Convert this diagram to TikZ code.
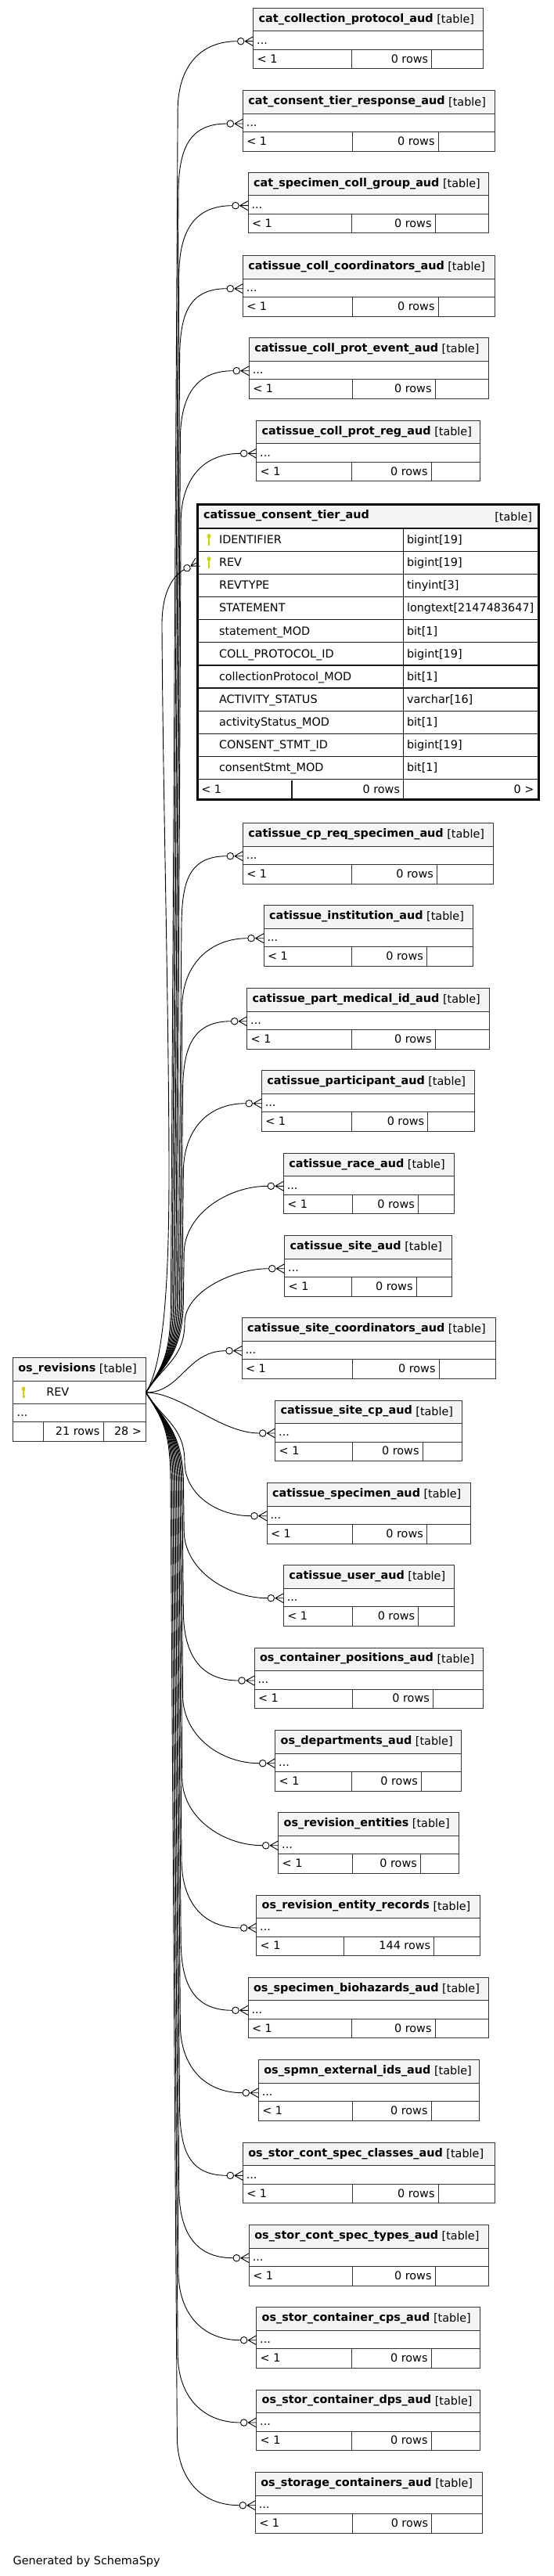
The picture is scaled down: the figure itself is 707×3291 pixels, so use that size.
\documentclass[tikz,border=0pt]{standalone}
\usepackage{fontspec}
\setmainfont{DejaVu Sans}
\usetikzlibrary{calc}
\definecolor{hdrfill}{RGB}{244,244,244}
\definecolor{bordc}{RGB}{51,51,51}
\definecolor{keyc}{RGB}{210,210,0}
\tikzset{
 tline/.style={draw=bordc, line width=1pt},
 hdr/.style={fill=hdrfill, draw=bordc, line width=1pt},
 txt/.style={anchor=base west, inner sep=0pt, outer sep=0pt},
 rtxt/.style={anchor=base east, inner sep=0pt, outer sep=0pt},
 fkline/.style={draw=black, line width=0.9pt},
 crowfoot/.pic={\draw[fkline] (-10.5,0) -- (0,-6) (-10.5,0) -- (0,0) (-10.5,0) -- (0,6); \draw[fkline, fill=white] (-16,0) circle (4.3);},
 dbkey/.pic={\fill[keyc] (0,-4.5) ellipse (2.4 and 3); \draw[keyc, line width=1.8pt] (0,-3) -- (0,7); \draw[keyc, line width=1.2pt] (0,5) -- (2.2,5);}
}
\newcommand\smalltbl[8]{%
 \pgfmathsetmacro\tya{#3+29.3}%
 \pgfmathsetmacro\tyb{#3+53}%
 \pgfmathsetmacro\tyc{#3+77.3}%
 \pgfmathsetmacro\tyt{#3+17.7}%
 \pgfmathsetmacro\tyd{#3+45.7}%
 \pgfmathsetmacro\tyf{#3+69.8}%
 \pgfmathsetmacro\tye{#3+42}%
 \filldraw[hdr] (#2,#3) rectangle (#4,\tya);
 \draw[tline] (#2,\tya) rectangle (#4,\tyc) (#2,\tyb) -- (#4,\tyb) (#5,\tyb) -- (#5,\tyc) (#6,\tyb) -- (#6,\tyc);
 \node[txt] (#1-title) at (#2+7,\tyt) {\textbf{#7} \raisebox{-1.5pt}{[table]}};
 \node[txt] (#1-dots) at (#2+4.5,\tyd) {...};
 \node[txt] (#1-min) at (#2+5,\tyf) {< 1};
 \node[rtxt] (#1-rows) at (#6-4.5,\tyf) {#8};
 \coordinate (#1-in) at (#2,\tye);
 \coordinate (#1-end) at (#2-20.3,\tye);
 \pic at (#1-in) {crowfoot};
}
\begin{document}
\begin{tikzpicture}[x=1pt,y=-1pt,font=\fontsize{14.4}{17}\selectfont]
\useasboundingbox (0,0) rectangle (707,3291);
\fill[white] (0,0) rectangle (707,3291);

% small tables
\smalltbl{t01}{323.7}{10.7}{617}{449}{551.7}{cat\_collection\_protocol\_aud}{0 rows}
\smalltbl{t02}{310.3}{116}{632}{450.3}{560}{cat\_consent\_tier\_response\_aud}{0 rows}
\smalltbl{t03}{317}{220.7}{624}{449}{556}{cat\_specimen\_coll\_group\_aud}{0 rows}
\smalltbl{t04}{310.3}{326.7}{632}{450.3}{560}{catissue\_coll\_coordinators\_aud}{0 rows}
\smalltbl{t05}{318.3}{431.7}{624}{450.3}{556}{catissue\_coll\_prot\_event\_aud}{0 rows}
\smalltbl{t06}{327.7}{537.3}{613.3}{449}{551}{catissue\_coll\_prot\_reg\_aud}{0 rows}
\smalltbl{t08}{310.3}{1051.7}{630.7}{449}{558.3}{catissue\_cp\_req\_specimen\_aud}{0 rows}
\smalltbl{t09}{337}{1156.7}{604}{449}{545.3}{catissue\_institution\_aud}{0 rows}
\smalltbl{t10}{315.7}{1262.7}{625.3}{449}{556}{catissue\_part\_medical\_id\_aud}{0 rows}
\smalltbl{t11}{334.3}{1367.7}{606.7}{449}{546.7}{catissue\_participant\_aud}{0 rows}
\smalltbl{t12}{362.3}{1473.3}{580}{450.3}{534.3}{catissue\_race\_aud}{0 rows}
\smalltbl{t13}{363.7}{1578.7}{577.3}{449}{532}{catissue\_site\_aud}{0 rows}
\smalltbl{t14}{309}{1683.7}{633.3}{450.3}{561}{catissue\_site\_coordinators\_aud}{0 rows}
\smalltbl{t15}{351.7}{1789}{590.7}{450.3}{540}{catissue\_site\_cp\_aud}{0 rows}
\smalltbl{t16}{341}{1894.7}{601.3}{450.3}{545.3}{catissue\_specimen\_aud}{0 rows}
\smalltbl{t17}{362.3}{1999.7}{580}{450.3}{534.7}{catissue\_user\_aud}{0 rows}
\smalltbl{t18}{325}{2105}{617.3}{450.3}{553.3}{os\_container\_positions\_aud}{0 rows}
\smalltbl{t19}{351.7}{2210.7}{589.3}{449}{538.3}{os\_departments\_aud}{0 rows}
\smalltbl{t20}{355.7}{2315.7}{586.7}{450.3}{537.3}{os\_revision\_entities}{0 rows}
\smalltbl{t21}{327.7}{2421}{613.3}{439.7}{554.7}{os\_revision\_entity\_records}{144 rows}
\smalltbl{t22}{317}{2526.3}{624}{449}{556}{os\_specimen\_biohazards\_aud}{0 rows}
\smalltbl{t23}{330.3}{2631.7}{612}{450.3}{551}{os\_spmn\_external\_ids\_aud}{0 rows}
\smalltbl{t24}{310.3}{2737.3}{632}{450.3}{560}{os\_stor\_cont\_spec\_classes\_aud}{0 rows}
\smalltbl{t25}{318.3}{2842.7}{624}{450.3}{556}{os\_stor\_cont\_spec\_types\_aud}{0 rows}
\smalltbl{t26}{327.7}{2947.7}{613.3}{449}{551}{os\_stor\_container\_cps\_aud}{0 rows}
\smalltbl{t27}{327.7}{3053}{613.3}{449}{551}{os\_stor\_container\_dps\_aud}{0 rows}
\smalltbl{t28}{326.3}{3158.7}{616.3}{450.3}{551.7}{os\_storage\_containers\_aud}{0 rows}

% big table catissue_consent_tier_aud
\fill[hdrfill] (252.5,644.3) rectangle (688.7,675);
\foreach \i in {0,...,11} { \draw[line width=1.3pt, black!90] (252.5,675+29.15*\i) -- (688.7,675+29.15*\i); }
\draw[line width=1.3pt, black!90] (515.7,675) -- (515.7,1021) (373,996.7) -- (373,1021);
\draw[line width=3pt] (252.5,644.3) rectangle (688.7,1021);
\node[txt] (ct-title) at (260,662.7) {\textbf{catissue\_consent\_tier\_aud}};
\node[rtxt] (ct-tt) at (680,665) {[table]};
\pic at (267,689.6) {dbkey};
\pic at (267,718.7) {dbkey};
\node[txt] (ct-c1) at (280,694.4) {IDENTIFIER};
\node[txt] (ct-c2) at (280,723.6) {REV};
\node[txt] (ct-c3) at (280,752.7) {REVTYPE};
\node[txt] (ct-c4) at (280,781.9) {STATEMENT};
\node[txt] (ct-c5) at (280,811.0) {statement\_MOD};
\node[txt] (ct-c6) at (280,840.2) {COLL\_PROTOCOL\_ID};
\node[txt] (ct-c7) at (280,869.3) {collectionProtocol\_MOD};
\node[txt] (ct-c8) at (280,898.5) {ACTIVITY\_STATUS};
\node[txt] (ct-c9) at (280,927.6) {activityStatus\_MOD};
\node[txt] (ct-c10) at (280,956.8) {CONSENT\_STMT\_ID};
\node[txt] (ct-c11) at (280,985.9) {consentStmt\_MOD};
\node[txt] (ct-t1) at (520,694.4) {bigint[19]};
\node[txt] (ct-t2) at (520,723.6) {bigint[19]};
\node[txt] (ct-t3) at (520,752.7) {tinyint[3]};
\node[txt] (ct-t4) at (520,781.9) {longtext[2147483647]};
\node[txt] (ct-t5) at (520,811.0) {bit[1]};
\node[txt] (ct-t6) at (520,840.2) {bigint[19]};
\node[txt] (ct-t7) at (520,869.3) {bit[1]};
\node[txt] (ct-t8) at (520,898.5) {varchar[16]};
\node[txt] (ct-t9) at (520,927.6) {bit[1]};
\node[txt] (ct-t10) at (520,956.8) {bigint[19]};
\node[txt] (ct-t11) at (520,985.9) {bit[1]};
\node[txt] (ct-min) at (257.3,1013.5) {< 1};
\node[rtxt] (ct-rows) at (511,1013.5) {0 rows};
\node[rtxt] (ct-more) at (682.5,1013.5) {0 >};
\coordinate (ct-in) at (253,718);
\coordinate (ct-end) at (235.2,727.8);
\pic[rotate=29] at (ct-in) {crowfoot};

% os_revisions
\filldraw[hdr] (16.7,1734.3) rectangle (186,1764);
\draw[tline] (16.7,1764) rectangle (186,1841) (16.7,1793.3) -- (186,1793.3) (16.7,1816.7) -- (186,1816.7) (55,1816.7) -- (55,1841) (132,1816.7) -- (132,1841);
\node[txt] (rv-title) at (23.3,1752) {\textbf{os\_revisions} \raisebox{-1.5pt}{[table]}};
\pic at (30,1779) {dbkey};
\node[txt] (rv-rev) at (59.3,1783.5) {REV};
\node[txt] (rv-dots) at (21.7,1809.3) {...};
\node[rtxt] (rv-rows) at (127.5,1833.3) {21 rows};
\node[rtxt] (rv-more) at (181,1833.3) {28 >};
\coordinate (rev-out) at (186.5,1779);

% connectors upward
\draw[fkline] (rev-out) .. controls +(22,-35) and +(0,70) .. (218.4,1660) -- (227.2,137.7) .. controls +(1,-50) and +(-50,0) .. (t01-end);
\draw[fkline] (rev-out) .. controls +(22,-35) and +(0,70) .. (220,1660) -- (228,243) .. controls +(1,-50) and +(-50,0) .. (t02-end);
\draw[fkline] (rev-out) .. controls +(22,-35) and +(0,70) .. (221.6,1660) -- (228.8,347.7) .. controls +(1,-50) and +(-50,0) .. (t03-end);
\draw[fkline] (rev-out) .. controls +(22,-35) and +(0,70) .. (223.2,1660) -- (229.6,453.7) .. controls +(1,-50) and +(-50,0) .. (t04-end);
\draw[fkline] (rev-out) .. controls +(22,-35) and +(0,70) .. (224.8,1660) -- (230.4,558.7) .. controls +(1,-50) and +(-50,0) .. (t05-end);
\draw[fkline] (rev-out) .. controls +(22,-35) and +(0,70) .. (226.4,1660) -- (231.2,664.3) .. controls +(1,-50) and +(-50,0) .. (t06-end);
\draw[fkline] (rev-out) .. controls +(22,-35) and +(0,70) .. (228,1660) -- (232,1178.7) .. controls +(1,-50) and +(-50,0) .. (t08-end);
\draw[fkline] (rev-out) .. controls +(22,-35) and +(0,70) .. (229.6,1660) -- (232.8,1283.7) .. controls +(1,-50) and +(-50,0) .. (t09-end);
\draw[fkline] (rev-out) .. controls +(22,-35) and +(0,70) .. (231.2,1660) -- (233.6,1389.7) .. controls +(1,-50) and +(-50,0) .. (t10-end);
\draw[fkline] (rev-out) .. controls +(22,-35) and +(0,70) .. (232.8,1660) -- (234.4,1494.7) .. controls +(1,-50) and +(-50,0) .. (t11-end);
\draw[fkline] (rev-out) .. controls +(22,-35) and +(0,70) .. (234.4,1660) -- (235.2,1600.3) .. controls +(1,-50) and +(-50,0) .. (t12-end);
\draw[fkline] (rev-out) .. controls +(22,-35) and +(0,45) .. (236,1690) .. controls +(0,-40) and +(-45,0) .. (t13-end);
% big table connector
\draw[fkline] (rev-out) .. controls (208,1745) and (216,1650) .. (216,1500) .. controls (216,1300) and (208,1000) .. (207,800) .. controls (206.5,755) and (222,735) .. (ct-end);
% near connectors
\draw[fkline] (rev-out) .. controls +(45,0) and +(-50,0) .. (t14-end);
\draw[fkline] (rev-out) .. controls +(45,0) and +(-50,0) .. (t15-end);
% connectors downward
\draw[fkline] (rev-out) .. controls +(22,35) and +(0,-45) .. (236,1868) .. controls +(0,40) and +(-45,0) .. (t16-end);
\draw[fkline] (rev-out) .. controls +(22,35) and +(0,-70) .. (234.5,1898) -- (235.2,1956.7) .. controls +(1,50) and +(-50,0) .. (t17-end);
\draw[fkline] (rev-out) .. controls +(22,35) and +(0,-70) .. (233,1898) -- (234.4,2062) .. controls +(1,50) and +(-50,0) .. (t18-end);
\draw[fkline] (rev-out) .. controls +(22,35) and +(0,-70) .. (231.5,1898) -- (233.6,2167.7) .. controls +(1,50) and +(-50,0) .. (t19-end);
\draw[fkline] (rev-out) .. controls +(22,35) and +(0,-70) .. (230,1898) -- (232.8,2272.7) .. controls +(1,50) and +(-50,0) .. (t20-end);
\draw[fkline] (rev-out) .. controls +(22,35) and +(0,-70) .. (228.5,1898) -- (232,2378) .. controls +(1,50) and +(-50,0) .. (t21-end);
\draw[fkline] (rev-out) .. controls +(22,35) and +(0,-70) .. (227,1898) -- (231.2,2483.3) .. controls +(1,50) and +(-50,0) .. (t22-end);
\draw[fkline] (rev-out) .. controls +(22,35) and +(0,-70) .. (225.5,1898) -- (230.4,2588.7) .. controls +(1,50) and +(-50,0) .. (t23-end);
\draw[fkline] (rev-out) .. controls +(22,35) and +(0,-70) .. (224,1898) -- (229.6,2694.3) .. controls +(1,50) and +(-50,0) .. (t24-end);
\draw[fkline] (rev-out) .. controls +(22,35) and +(0,-70) .. (222.5,1898) -- (228.8,2799.7) .. controls +(1,50) and +(-50,0) .. (t25-end);
\draw[fkline] (rev-out) .. controls +(22,35) and +(0,-70) .. (221,1898) -- (228,2904.7) .. controls +(1,50) and +(-50,0) .. (t26-end);
\draw[fkline] (rev-out) .. controls +(22,35) and +(0,-70) .. (219.5,1898) -- (227.2,3010) .. controls +(1,50) and +(-50,0) .. (t27-end);
\draw[fkline] (rev-out) .. controls +(22,35) and +(0,-70) .. (218,1898) -- (226.4,3115.7) .. controls +(1,50) and +(-50,0) .. (t28-end);

\node[txt] (gen) at (16.7,3276.7) {Generated by SchemaSpy};
\end{tikzpicture}
\end{document}
